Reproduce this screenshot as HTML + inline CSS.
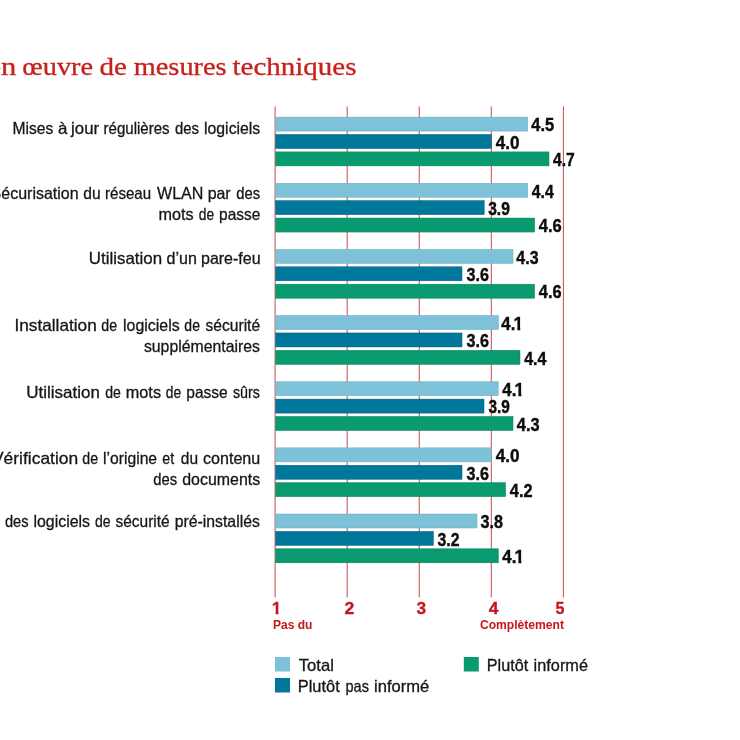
<!DOCTYPE html>
<html lang="fr"><head><meta charset="utf-8"><title>Mise en œuvre de mesures techniques</title>
<style>
html,body{margin:0;padding:0;background:#fff;}
body{width:740px;height:740px;overflow:hidden;}
svg{display:block;}
text{white-space:pre;}
.t{font-family:"Liberation Serif",serif;font-size:25px;font-weight:normal;fill:#c8201c;stroke:#c8201c;stroke-width:0.3px;}
.l{font-family:"Liberation Sans",sans-serif;font-size:16.5px;font-weight:normal;fill:#161616;stroke:#161616;stroke-width:0.3px;}
.v{font-family:"Liberation Sans",sans-serif;font-size:17.7px;font-weight:bold;fill:#0d0d0d;stroke:#0d0d0d;stroke-width:0.4px;}
.a{font-family:"Liberation Sans",sans-serif;font-size:17px;font-weight:bold;fill:#c4161c;stroke:#c4161c;stroke-width:0.3px;}
.s{font-family:"Liberation Sans",sans-serif;font-size:13.4px;font-weight:bold;fill:#c4161c;stroke:#c4161c;stroke-width:0px;}
</style></head><body>
<svg width="740" height="740" viewBox="0 0 740 740">
<rect width="740" height="740" fill="#ffffff"/>
<rect x="274.55" y="106.4" width="1.1" height="491" fill="#cf5a5e"/>
<rect x="346.63" y="106.4" width="1.1" height="491" fill="#cf5a5e"/>
<rect x="418.71" y="106.4" width="1.1" height="491" fill="#cf5a5e"/>
<rect x="490.79" y="106.4" width="1.1" height="491" fill="#cf5a5e"/>
<rect x="562.87" y="106.4" width="1.1" height="491" fill="#cf5a5e"/>
<rect x="275.7" y="117.10" width="252.0" height="14.0" fill="#7dc2d9" stroke="#6fa9bd" stroke-width="0.5"/>
<rect x="275.7" y="134.50" width="215.7" height="14.0" fill="#00789b" stroke="#005f7d" stroke-width="0.5"/>
<rect x="275.7" y="151.90" width="273.3" height="14.0" fill="#0a9a6f" stroke="#078058" stroke-width="0.5"/>
<rect x="275.7" y="183.25" width="252.0" height="14.0" fill="#7dc2d9" stroke="#6fa9bd" stroke-width="0.5"/>
<rect x="275.7" y="200.65" width="208.5" height="14.0" fill="#00789b" stroke="#005f7d" stroke-width="0.5"/>
<rect x="275.7" y="218.05" width="259.0" height="14.0" fill="#0a9a6f" stroke="#078058" stroke-width="0.5"/>
<rect x="275.7" y="249.40" width="237.3" height="14.0" fill="#7dc2d9" stroke="#6fa9bd" stroke-width="0.5"/>
<rect x="275.7" y="266.80" width="186.3" height="14.0" fill="#00789b" stroke="#005f7d" stroke-width="0.5"/>
<rect x="275.7" y="284.20" width="258.9" height="14.0" fill="#0a9a6f" stroke="#078058" stroke-width="0.5"/>
<rect x="275.7" y="315.55" width="222.8" height="14.0" fill="#7dc2d9" stroke="#6fa9bd" stroke-width="0.5"/>
<rect x="275.7" y="332.95" width="186.3" height="14.0" fill="#00789b" stroke="#005f7d" stroke-width="0.5"/>
<rect x="275.7" y="350.35" width="244.3" height="14.0" fill="#0a9a6f" stroke="#078058" stroke-width="0.5"/>
<rect x="275.7" y="381.70" width="222.5" height="14.0" fill="#7dc2d9" stroke="#6fa9bd" stroke-width="0.5"/>
<rect x="275.7" y="399.10" width="208.3" height="14.0" fill="#00789b" stroke="#005f7d" stroke-width="0.5"/>
<rect x="275.7" y="416.50" width="237.3" height="14.0" fill="#0a9a6f" stroke="#078058" stroke-width="0.5"/>
<rect x="275.7" y="447.85" width="215.9" height="14.0" fill="#7dc2d9" stroke="#6fa9bd" stroke-width="0.5"/>
<rect x="275.7" y="465.25" width="186.3" height="14.0" fill="#00789b" stroke="#005f7d" stroke-width="0.5"/>
<rect x="275.7" y="482.65" width="229.9" height="14.0" fill="#0a9a6f" stroke="#078058" stroke-width="0.5"/>
<rect x="275.7" y="514.00" width="201.3" height="14.0" fill="#7dc2d9" stroke="#6fa9bd" stroke-width="0.5"/>
<rect x="275.7" y="531.40" width="157.7" height="14.0" fill="#00789b" stroke="#005f7d" stroke-width="0.5"/>
<rect x="275.7" y="548.80" width="222.6" height="14.0" fill="#0a9a6f" stroke="#078058" stroke-width="0.5"/>
<text class="v" x="531.27" y="131.3" textLength="22.89" lengthAdjust="spacingAndGlyphs">4.5</text>
<text class="v" x="495.66" y="148.8" textLength="23.71" lengthAdjust="spacingAndGlyphs">4.0</text>
<text class="v" x="552.98" y="166.1" textLength="21.77" lengthAdjust="spacingAndGlyphs">4.7</text>
<text class="v" x="531.78" y="197.5" textLength="21.91" lengthAdjust="spacingAndGlyphs">4.4</text>
<text class="v" x="488.16" y="214.9" textLength="21.66" lengthAdjust="spacingAndGlyphs">3.9</text>
<text class="v" x="538.77" y="232.3" textLength="22.99" lengthAdjust="spacingAndGlyphs">4.6</text>
<text class="v" x="516.37" y="263.6" textLength="22.16" lengthAdjust="spacingAndGlyphs">4.3</text>
<text class="v" x="466.54" y="281.1" textLength="22.40" lengthAdjust="spacingAndGlyphs">3.6</text>
<text class="v" x="538.77" y="298.4" textLength="22.78" lengthAdjust="spacingAndGlyphs">4.6</text>
<text class="v" y="329.8" clip-path="url(#c0)"><tspan x="501.36" textLength="14.04" lengthAdjust="spacingAndGlyphs">4.</tspan><tspan x="513.54" textLength="9.94" lengthAdjust="spacingAndGlyphs">1</tspan></text>
<text class="v" x="466.54" y="347.2" textLength="22.40" lengthAdjust="spacingAndGlyphs">3.6</text>
<text class="v" x="524.17" y="364.6" textLength="22.31" lengthAdjust="spacingAndGlyphs">4.4</text>
<text class="v" y="395.9" clip-path="url(#c1)"><tspan x="502.36" textLength="14.04" lengthAdjust="spacingAndGlyphs">4.</tspan><tspan x="514.64" textLength="9.94" lengthAdjust="spacingAndGlyphs">1</tspan></text>
<text class="v" x="488.57" y="413.3" textLength="21.35" lengthAdjust="spacingAndGlyphs">3.9</text>
<text class="v" x="516.77" y="430.8" textLength="22.78" lengthAdjust="spacingAndGlyphs">4.3</text>
<text class="v" x="495.76" y="462.1" textLength="23.82" lengthAdjust="spacingAndGlyphs">4.0</text>
<text class="v" x="466.54" y="479.5" textLength="22.40" lengthAdjust="spacingAndGlyphs">3.6</text>
<text class="v" x="509.77" y="496.9" textLength="22.78" lengthAdjust="spacingAndGlyphs">4.2</text>
<text class="v" x="480.54" y="528.2" textLength="22.40" lengthAdjust="spacingAndGlyphs">3.8</text>
<text class="v" x="437.55" y="545.6" textLength="21.98" lengthAdjust="spacingAndGlyphs">3.2</text>
<text class="v" y="563.0" clip-path="url(#c2)"><tspan x="502.36" textLength="14.04" lengthAdjust="spacingAndGlyphs">4.</tspan><tspan x="514.64" textLength="9.94" lengthAdjust="spacingAndGlyphs">1</tspan></text>
<text class="s" x="272.93" y="629.0" textLength="39.49" lengthAdjust="spacingAndGlyphs">Pas du</text>
<text class="s" x="479.95" y="629.0" textLength="84.07" lengthAdjust="spacingAndGlyphs">Complètement</text>
<text class="a" x="344.48" y="614.0" textLength="9.87" lengthAdjust="spacingAndGlyphs">2</text>
<text class="a" x="416.49" y="614.0" textLength="9.64" lengthAdjust="spacingAndGlyphs">3</text>
<text class="a" x="488.74" y="614.0" textLength="9.72" lengthAdjust="spacingAndGlyphs">4</text>
<text class="a" x="555.53" y="614.0" textLength="8.91" lengthAdjust="spacingAndGlyphs">5</text>
<text class="t" y="74.5"><tspan x="-78.74" textLength="49.48" lengthAdjust="spacingAndGlyphs">Mise</tspan> <tspan x="-12.53" textLength="28.93" lengthAdjust="spacingAndGlyphs">en</tspan> <tspan x="22.37" textLength="70.76" lengthAdjust="spacingAndGlyphs">œuvre</tspan> <tspan x="99.43" textLength="27.47" lengthAdjust="spacingAndGlyphs">de</tspan> <tspan x="133.73" textLength="92.91" lengthAdjust="spacingAndGlyphs">mesures</tspan> <tspan x="232.51" textLength="123.96" lengthAdjust="spacingAndGlyphs">techniques</tspan></text>
<text class="l" y="134.4"><tspan x="12.52" textLength="40.85" lengthAdjust="spacingAndGlyphs">Mises</tspan> <tspan x="58.03" textLength="9.40" lengthAdjust="spacingAndGlyphs">à</tspan> <tspan x="71.11" textLength="28.06" lengthAdjust="spacingAndGlyphs">jour</tspan> <tspan x="103.59" textLength="66.07" lengthAdjust="spacingAndGlyphs">régulières</tspan> <tspan x="174.92" textLength="24.03" lengthAdjust="spacingAndGlyphs">des</tspan> <tspan x="204.04" textLength="56.23" lengthAdjust="spacingAndGlyphs">logiciels</tspan></text>
<text class="l" y="198.9"><tspan x="-9.40" textLength="88.02" lengthAdjust="spacingAndGlyphs">Sécurisation</tspan> <tspan x="83.29" textLength="17.36" lengthAdjust="spacingAndGlyphs">du</tspan> <tspan x="105.09" textLength="46.01" lengthAdjust="spacingAndGlyphs">réseau</tspan> <tspan x="157.00" textLength="46.38" lengthAdjust="spacingAndGlyphs">WLAN</tspan> <tspan x="207.63" textLength="23.07" lengthAdjust="spacingAndGlyphs">par</tspan> <tspan x="236.33" textLength="23.82" lengthAdjust="spacingAndGlyphs">des</tspan></text>
<text class="l" y="219.6"><tspan x="158.62" textLength="35.09" lengthAdjust="spacingAndGlyphs">mots</tspan> <tspan x="198.77" textLength="15.34" lengthAdjust="spacingAndGlyphs">de</tspan> <tspan x="219.06" textLength="41.27" lengthAdjust="spacingAndGlyphs">passe</tspan></text>
<text class="l" y="264.0"><tspan x="88.82" textLength="73.24" lengthAdjust="spacingAndGlyphs">Utilisation</tspan> <tspan x="166.57" textLength="30.36" lengthAdjust="spacingAndGlyphs">d’un</tspan> <tspan x="201.03" textLength="59.55" lengthAdjust="spacingAndGlyphs">pare-feu</tspan></text>
<text class="l" y="331.3"><tspan x="14.43" textLength="82.36" lengthAdjust="spacingAndGlyphs">Installation</tspan> <tspan x="101.36" textLength="15.77" lengthAdjust="spacingAndGlyphs">de</tspan> <tspan x="123.04" textLength="56.64" lengthAdjust="spacingAndGlyphs">logiciels</tspan> <tspan x="184.36" textLength="15.55" lengthAdjust="spacingAndGlyphs">de</tspan> <tspan x="205.53" textLength="54.61" lengthAdjust="spacingAndGlyphs">sécurité</tspan></text>
<text class="l" y="352.4"><tspan x="143.92" textLength="116.13" lengthAdjust="spacingAndGlyphs">supplémentaires</tspan></text>
<text class="l" y="397.6"><tspan x="26.31" textLength="73.55" lengthAdjust="spacingAndGlyphs">Utilisation</tspan> <tspan x="105.26" textLength="15.66" lengthAdjust="spacingAndGlyphs">de</tspan> <tspan x="125.82" textLength="35.19" lengthAdjust="spacingAndGlyphs">mots</tspan> <tspan x="165.87" textLength="15.34" lengthAdjust="spacingAndGlyphs">de</tspan> <tspan x="186.26" textLength="41.48" lengthAdjust="spacingAndGlyphs">passe</tspan> <tspan x="232.97" textLength="27.02" lengthAdjust="spacingAndGlyphs">sûrs</tspan></text>
<text class="l" y="464.0"><tspan x="-8.01" textLength="86.20" lengthAdjust="spacingAndGlyphs">Vérification</tspan> <tspan x="82.36" textLength="15.77" lengthAdjust="spacingAndGlyphs">de</tspan> <tspan x="103.05" textLength="54.04" lengthAdjust="spacingAndGlyphs">l’origine</tspan> <tspan x="162.35" textLength="11.86" lengthAdjust="spacingAndGlyphs">et</tspan> <tspan x="180.80" textLength="17.25" lengthAdjust="spacingAndGlyphs">du</tspan> <tspan x="203.07" textLength="57.17" lengthAdjust="spacingAndGlyphs">contenu</tspan></text>
<text class="l" y="484.6"><tspan x="153.33" textLength="23.82" lengthAdjust="spacingAndGlyphs">des</tspan> <tspan x="182.28" textLength="77.92" lengthAdjust="spacingAndGlyphs">documents</tspan></text>
<text class="l" y="526.7"><tspan x="-73.28" textLength="73.34" lengthAdjust="spacingAndGlyphs">Utilisation</tspan> <tspan x="4.93" textLength="23.61" lengthAdjust="spacingAndGlyphs">des</tspan> <tspan x="33.44" textLength="56.64" lengthAdjust="spacingAndGlyphs">logiciels</tspan> <tspan x="94.96" textLength="15.55" lengthAdjust="spacingAndGlyphs">de</tspan> <tspan x="115.53" textLength="54.20" lengthAdjust="spacingAndGlyphs">sécurité</tspan> <tspan x="174.64" textLength="85.25" lengthAdjust="spacingAndGlyphs">pré-installés</tspan></text>
<text class="l" y="671.1"><tspan x="298.75" textLength="35.17" lengthAdjust="spacingAndGlyphs">Total</tspan></text>
<text class="l" y="691.5"><tspan x="297.75" textLength="42.05" lengthAdjust="spacingAndGlyphs">Plutôt</tspan> <tspan x="345.52" textLength="23.42" lengthAdjust="spacingAndGlyphs">pas</tspan> <tspan x="374.00" textLength="55.29" lengthAdjust="spacingAndGlyphs">informé</tspan></text>
<text class="l" y="670.8"><tspan x="486.77" textLength="41.43" lengthAdjust="spacingAndGlyphs">Plutôt</tspan> <tspan x="533.61" textLength="54.36" lengthAdjust="spacingAndGlyphs">informé</tspan></text>
<text class="a" y="614.0" clip-path="url(#c3)"><tspan x="271.84" textLength="9.96" lengthAdjust="spacingAndGlyphs">1</tspan></text>
<defs><clipPath id="c0" clipPathUnits="userSpaceOnUse"><polygon points="498.60,312.10 520.19,312.10 520.19,331.80 517.38,331.80 517.38,327.59 514.43,327.59 514.43,331.80 498.60,331.80"/></clipPath><clipPath id="c1" clipPathUnits="userSpaceOnUse"><polygon points="499.60,378.25 521.29,378.25 521.29,397.95 518.48,397.95 518.48,393.74 515.53,393.74 515.53,397.95 499.60,397.95"/></clipPath><clipPath id="c2" clipPathUnits="userSpaceOnUse"><polygon points="499.60,545.35 521.29,545.35 521.29,565.05 518.48,565.05 518.48,560.84 515.53,560.84 515.53,565.05 499.60,565.05"/></clipPath><clipPath id="c3" clipPathUnits="userSpaceOnUse"><polygon points="270.84,597.00 278.49,597.00 278.49,616.00 275.68,616.00 275.68,611.88 270.84,611.88"/></clipPath></defs>
<rect x="275" y="657" width="15" height="14.5" fill="#7dc2d9"/>
<rect x="275" y="678" width="15" height="14.5" fill="#00789b"/>
<rect x="463.8" y="657" width="15" height="14.5" fill="#0a9a6f"/>
</svg></body></html>
